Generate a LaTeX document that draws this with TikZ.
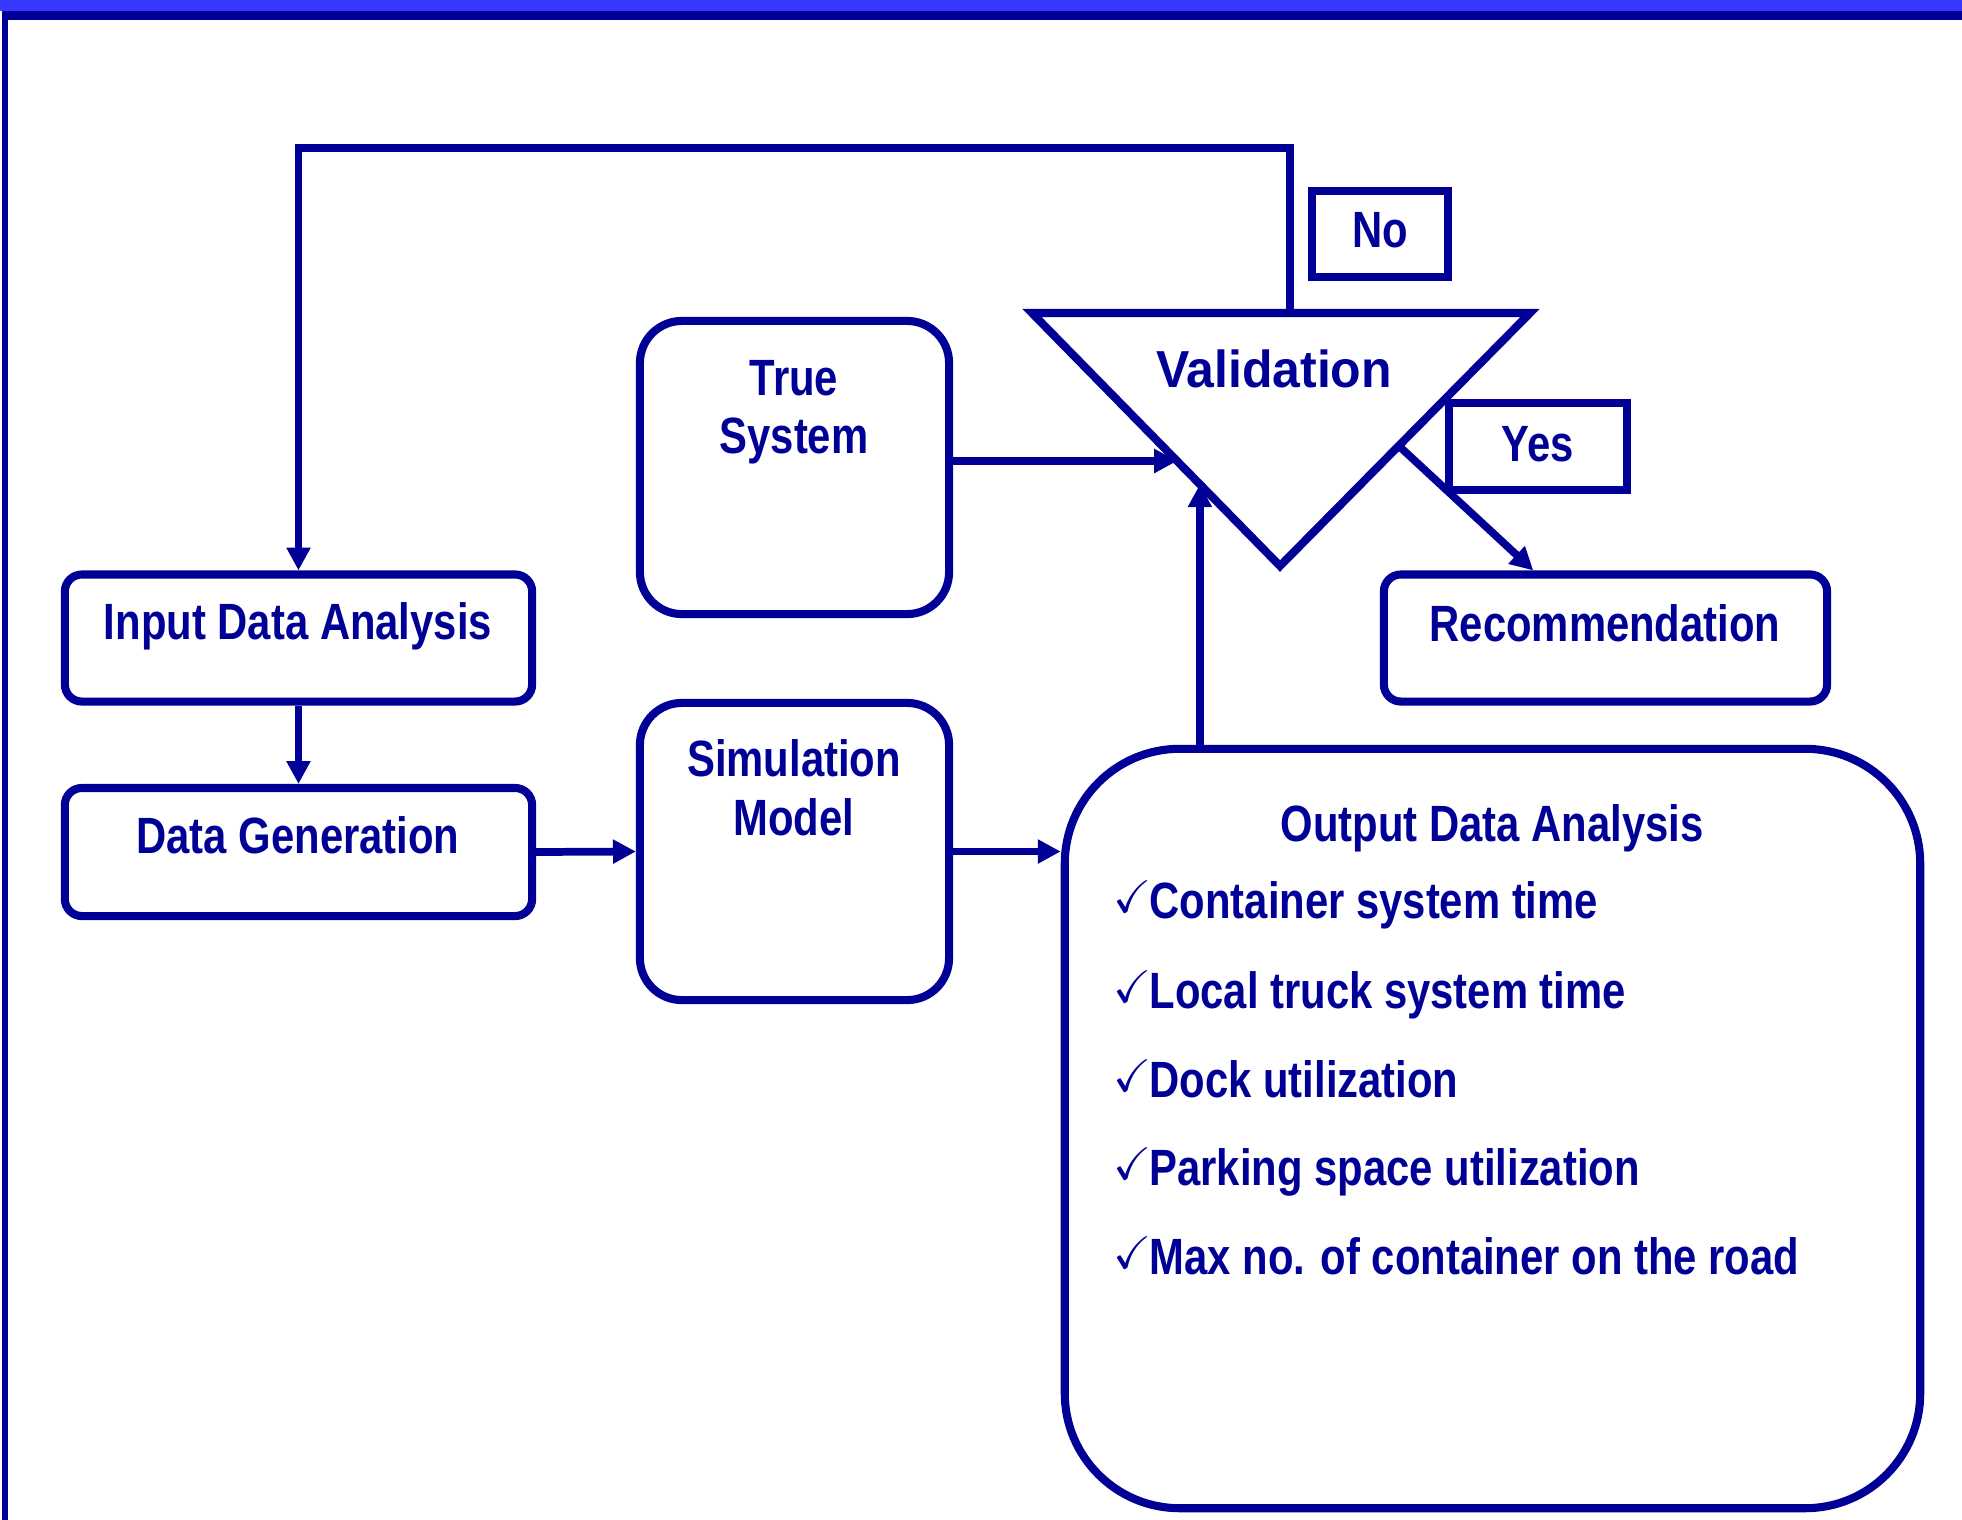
\documentclass[tikz,border=0pt]{standalone}
\usepackage{fontspec}
\usepackage{amssymb}
\usetikzlibrary{arrows.meta,calc}
\newfontfamily\narrowbf{Liberation Sans}[FakeStretch=0.82]
\newfontfamily\widebf{Liberation Sans}[FakeStretch=0.96]
\definecolor{dkblue}{RGB}{0,0,150}
\definecolor{band}{RGB}{56,56,255}
\newcommand{\chk}{\makebox[10.2pt][l]{\fontsize{13}{13}\selectfont\raisebox{1.5pt}{$\checkmark$}}}
\tikzset{>={Triangle[length=6.5pt,width=6.5pt]}}
\tikzset{
  box/.style={draw=dkblue, line width=2.3pt, inner sep=0pt},
  txt/.style={text=dkblue, inner sep=0pt, anchor=base, font=\narrowbf\bfseries\fontsize{14.5}{17}\selectfont},
  conn/.style={draw=dkblue, line width=2.2pt, ->}
}

\begin{document}
\begin{tikzpicture}[x=0.01cm, y=-0.01cm]
    \useasboundingbox (0,0) rectangle (1962,1520);
    % frame
    \fill[band] (0,0) rectangle (1962,11);
    \fill[dkblue] (2,11) rectangle (1962,20);
    \fill[dkblue] (2,11) rectangle (8,1520);
    % boxes
    \node[box, rounded corners=0.17cm, minimum width=4.67cm, minimum height=1.27cm] (ida) at (298.5,638) {};
    \node[box, rounded corners=0.17cm, minimum width=4.67cm, minimum height=1.28cm] (dg) at (298.5,852) {};
    \node[box, rounded corners=0.42cm, minimum width=3.09cm, minimum height=2.93cm] (ts) at (794.5,467.5) {};
    \node[box, rounded corners=0.42cm, minimum width=3.09cm, minimum height=2.97cm] (sim) at (794.5,851.5) {};
    \node[box, rounded corners=0.17cm, minimum width=4.43cm, minimum height=1.27cm] (rec) at (1605.5,638) {};
    \node[box, rounded corners=1.15cm, minimum width=8.55cm, minimum height=7.59cm] (oda) at (1492.5,1128.5) {};
    \node[box, minimum width=1.36cm, minimum height=0.86cm] (no) at (1380,234) {};
    \node[box, minimum width=1.78cm, minimum height=0.87cm] (yes) at (1538,446.5) {};
    % validation triangle
    \coordinate (vtl) at (1032,313);
    \coordinate (vtr) at (1530,313);
    \coordinate (vb) at (1280,566);
    \coordinate (vno) at (1290,313);
    \coordinate (vin1) at ($(vtl)!0.585!(vb)$);
    \coordinate (vin2) at ($(vtl)!0.677!(vb)$);
    \coordinate (vout) at ($(vtr)!0.525!(vb)$);
    \draw[dkblue, line width=2.3pt] (vtl) -- (vtr) -- (vb) -- cycle;
    % connectors
    \draw[conn] (vno) -- ++(0,-165) -| (ida.north);
    \draw[conn] (ida.south) -- (dg.north);
    \draw[conn] (dg.east) -- (sim.west);
    \draw[conn] (sim.east) -- (sim.east -| oda.west);
    \draw[conn] (ts.east |- vin1) -- (vin1);
    \draw[conn] (oda.north -| vin2) -- (vin2);
    \draw[conn] (vout) -- ($(rec.north west)!0.34!(rec.north east)$);
    % texts
    \node[txt] (idat) at (298,639) {Input Data Analysis};
    \node[txt] (dgt) at (298,853) {Data Generation};
    \node[txt] (tst1) at (794,395) {True};
    \node[txt] (tst2) at (794,453) {System};
    \node[txt] (simt1) at (794,776) {Simulation};
    \node[txt] (simt2) at (794,835) {Model};
    \node[txt, font=\widebf\bfseries\fontsize{14.8}{18}\selectfont] (valt) at (1274,387) {Validation};
    \node[txt] (not) at (1380,247) {No};
    \node[txt] (yest) at (1538,461) {Yes};
    \node[txt] (rect) at (1605,641) {Recommendation};
    \node[txt] (odat) at (1492,841) {Output Data Analysis};
    \foreach \y/\t [count=\i] in {918/Container system time, 1008/Local truck system time, 1097/Dock utilization, 1185/Parking space utilization, 1274/Max no. of container on the road}
    \node[txt, anchor=base west] (item\i) at (1113,\y) {\chk\t};
\end{tikzpicture}
\end{document}
